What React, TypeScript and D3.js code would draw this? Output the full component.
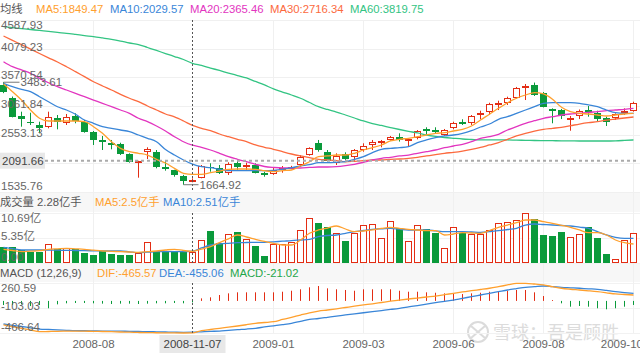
import React from 'react';
import * as d3 from 'd3';

// weekly candles, [open, high, low, close]
const ohlc: [number, number, number, number][] = [
  [3434, 3483.61, 3290, 3316], [3198, 3230, 2860, 2872], [2884, 2961, 2695, 2836], [2783, 2943, 2725, 2755],
  [2725, 2783, 2577, 2666], [2684, 2961, 2666, 2861], [2843, 2902, 2648, 2783], [2766, 2920, 2725, 2861],
  [2890, 2932, 2755, 2796], [2783, 2813, 2588, 2606], [2606, 2618, 2370, 2459], [2459, 2530, 2281, 2418],
  [2400, 2459, 2293, 2370], [2388, 2410, 2192, 2205], [2205, 2222, 2056, 2073], [2063, 2090, 1790, 2086],
  [2251, 2329, 2121, 2293], [2251, 2281, 1956, 1985], [1985, 2104, 1914, 1938], [1926, 1930, 1807, 1837],
  [1820, 1840, 1664.92, 1736], [1718, 1779, 1708, 1749], [1790, 2015, 1779, 1997], [1985, 2045, 1896, 1956],
  [1956, 2015, 1855, 1868], [1868, 2063, 1838, 2027], [2056, 2104, 1926, 1974], [1974, 2056, 1926, 2015],
  [2015, 2045, 1866, 1878], [1878, 1896, 1807, 1837], [1850, 1960, 1840, 1926], [1926, 1997, 1878, 1967],
  [1956, 2000, 1940, 1985], [2015, 2192, 1985, 2162], [2192, 2329, 2180, 2311], [2400, 2459, 2251, 2281],
  [2251, 2281, 2080, 2091], [2056, 2222, 2015, 2174], [2210, 2240, 2080, 2116], [2152, 2298, 2091, 2281],
  [2281, 2400, 2251, 2357], [2370, 2459, 2281, 2418], [2410, 2459, 2329, 2447], [2459, 2530, 2447, 2506],
  [2518, 2577, 2430, 2459], [2446, 2488, 2352, 2476], [2489, 2635, 2470, 2623], [2654, 2684, 2547, 2618],
  [2636, 2684, 2565, 2595], [2547, 2654, 2530, 2636], [2677, 2783, 2648, 2766], [2773, 2826, 2725, 2737],
  [2755, 2902, 2725, 2884], [2902, 2978, 2826, 2943], [2950, 3120, 2902, 3097], [3091, 3156, 2990, 3120],
  [3109, 3227, 3080, 3198], [3209, 3400, 3190, 3376], [3386, 3452, 3168, 3412], [3434, 3478, 3240, 3257],
  [3287, 3310, 3037, 3049], [3009, 3020, 2755, 2978], [2990, 3010, 2830, 2884], [2813, 2884, 2623, 2854],
  [2884, 3000, 2830, 2978], [2990, 3062, 2872, 2950], [2943, 2978, 2790, 2831], [2843, 2872, 2707, 2783],
  [2843, 2932, 2813, 2914], [2932, 3020, 2902, 2972], [2978, 3138, 2961, 3109],
];

const ma5 = [3452, 3316, 3168, 2991, 2844, 2796, 2796, 2796, 2796, 2783, 2695, 2577, 2428, 2311, 2251, 2223, 2192, 2116, 2050, 1956,
  1868, 1849.47, 1850, 1878, 1908, 1939, 1944, 1944, 1939, 1914, 1896, 1914, 1926, 1997, 2073, 2162, 2175, 2192, 2192, 2223,
  2281, 2322, 2370, 2441, 2471, 2489, 2517, 2547, 2577, 2588, 2618, 2648, 2707, 2813, 2915, 3021, 3120, 3199, 3257, 3298,
  3275, 3181, 3039, 2961, 2932, 2920, 2902, 2884, 2902, 2920, 2932];
const ma10 = [3465, 3404, 3358, 3316, 3227, 3138, 3049, 2991, 2915, 2813, 2755, 2695, 2666, 2636, 2606, 2547, 2489, 2428, 2290, 2192,
  2104, 2029.57, 1985, 1967, 1939, 1914, 1914, 1914, 1914, 1914, 1921, 1939, 1967, 1997, 2020, 2056, 2056, 2063, 2073, 2116,
  2162, 2233, 2294, 2311, 2322, 2340, 2411, 2459, 2499, 2530, 2547, 2577, 2624, 2689, 2742, 2826, 2872, 2932, 2991, 3049,
  3110, 3120, 3120, 3120, 3110, 3080, 3049, 2991, 2943, 2932, 2932];
const ma20 = [3848, 3759, 3701, 3642, 3553, 3475, 3404, 3346, 3287, 3227, 3168, 3110, 3049, 2991, 2932, 2844, 2783, 2707, 2618, 2517,
  2428, 2365.46, 2329, 2281, 2223, 2162, 2116, 2073, 2027, 1988, 1971, 1962, 1962, 1962, 1971, 1979, 1979, 1985, 2003, 2027,
  2063, 2104, 2134, 2152, 2175, 2192, 2223, 2251, 2281, 2322, 2352, 2382, 2428, 2489, 2517, 2560, 2636, 2695, 2755, 2801,
  2844, 2872, 2902, 2920, 2932, 2950, 2961, 2978, 2991, 3003, 3021];
const ma30 = [4304, 4226, 4150, 4072, 3993, 3917, 3843, 3759, 3671, 3582, 3493, 3417, 3346, 3269, 3199, 3138, 3062, 2991, 2920, 2867,
  2796, 2716.34, 2666, 2624, 2565, 2517, 2471, 2428, 2370, 2329, 2294, 2251, 2210, 2175, 2144, 2116, 2104, 2091, 2073, 2081,
  2091, 2104, 2104, 2116, 2121, 2134, 2152, 2175, 2198, 2223, 2240, 2263, 2294, 2329, 2370, 2411, 2471, 2530, 2577, 2618,
  2648, 2666, 2684, 2712, 2742, 2766, 2783, 2813, 2831, 2849, 2867];
const ma60 = [4469, 4451, 4435, 4419, 4402, 4386, 4368, 4352, 4332, 4311, 4292, 4269, 4245, 4215, 4180, 4153, 4100, 4047, 3993, 3940,
  3887, 3819.75, 3781, 3736, 3692, 3647, 3603, 3559, 3497, 3435, 3364, 3310, 3257, 3199, 3124, 3049, 3000, 2955, 2902, 2849,
  2796, 2751, 2716, 2680, 2645, 2613, 2583, 2547, 2521, 2503, 2489, 2476, 2467, 2459, 2459, 2459, 2459, 2455, 2453, 2450,
  2448, 2446, 2444, 2443, 2441, 2441, 2441, 2441, 2444, 2451, 2459];

// volume, 亿手
const volume = [3.36, 3.36, 2.78, 2.42, 2.42, 4.06, 2.99, 3.14, 2.99, 2.07, 1.71, 2.57, 1.86, 1.71, 1.71, 2.07, 4.55, 2.57, 2.57, 2.57,
  2.57, 2.28, 4.92, 6.91, 4.21, 6.2, 6.69, 5.07, 3.7, 1.56, 4.06, 4.06, 4.43, 7.06, 9.56, 8.49, 7.63, 6.35, 4.7, 6.35,
  8.12, 8.34, 5.28, 8.98, 7.42, 4.7, 8.12, 7.21, 6.48, 3.14, 7.63, 6.48, 6.2, 6.2, 7.06, 8.49, 8.7, 9.19, 10.69, 9.34,
  5.99, 5.77, 6.56, 5.49, 6.2, 7.63, 5.28, 1.92, 0.79, 4.92, 6.35];
const volMa5 = [2.93, 2.67, 2.42, 2.52, 2.63, 2.93, 3.04, 3.14, 3.04, 2.93, 2.74, 2.57, 2.5, 2.42, 2.35, 2.29, 2.42, 2.57, 2.78, 2.93,
  2.67, 2.5, 2.99, 3.48, 4.34, 5.17, 5.99, 5.56, 5.07, 4.6, 4.21, 3.85, 3.85, 4.92, 6.35, 7.06, 7.48, 7.91, 7.27, 6.69,
  6.84, 7.06, 7.38, 7.63, 7.42, 7.21, 7.06, 6.91, 6.91, 5.99, 6.2, 6.48, 6.41, 6.35, 6.95, 7.63, 8.12, 8.62, 9.19, 9.19,
  8.83, 8.49, 8.06, 7.63, 7.06, 6.48, 6.48, 5.99, 4.92, 4.34, 4.06];
const volMa10 = [3.36, 3.06, 2.78, 2.78, 2.78, 2.78, 2.74, 2.69, 2.67, 2.63, 2.61, 2.59, 2.57, 2.57, 2.39, 2.2, 2.31, 2.42, 2.42, 2.42,
  2.42, 2.51, 3.21, 3.85, 4.06, 4.21, 4.34, 4.38, 4.4, 4.43, 4.53, 4.66, 4.77, 4.92, 5.07, 5.62, 5.88, 5.99, 6.35, 6.69,
  6.95, 7.21, 7.31, 7.42, 7.23, 7.06, 7.06, 7.06, 6.88, 6.69, 6.69, 6.69, 6.63, 6.56, 6.73, 6.91, 7.16, 7.42, 8.12, 8.34,
  8.23, 8.12, 8.02, 7.91, 7.65, 7.42, 6.69, 5.99, 5.49, 5.28, 5.28];

// MACD (12,26,9)
const dif = [-350, -375, -398, -423, -448, -445, -442, -440, -438, -440, -443, -445, -448, -452, -455, -459, -462, -463, -465, -466,
  -466.5, -465.57, -433, -416, -398, -382, -365, -346, -326, -314, -302, -270, -238, -205, -173, -147, -132, -115, -96, -77,
  -59, -42, -23, -4, 13, 28, 42, 57, 71, 90, 111, 130, 149, 166, 184, 207, 232, 256, 256, 246,
  232, 207, 184, 170, 159, 147, 134, 118, 101, 93, 86];
const dea = [-336, -355, -372, -391, -409, -415, -420, -427, -433, -434, -436, -438, -438, -440, -443, -445, -446, -449, -452, -455,
  -457, -455.06, -449, -443, -438, -427, -417, -409, -398, -379, -362, -345, -326, -297, -267, -256, -238, -220, -204, -188,
  -172, -156, -140, -124, -107, -87, -67, -46, -26, -6, 13, 38, 61, 86, 111, 135, 159, 179, 198, 208,
  217, 208, 198, 191, 184, 176, 169, 152, 134, 122, 111];
const macdHist = [-60, -60, -50, -75, -60, -107, -50, -35, -30, -30, -35, -40, -45, -40, -40, -45, -40, -35, -35, -30,
  -35, -21.02, 37, 52, 86, 110, 125, 125, 125, 125, 125, 134, 148, 169, 198, 217, 183, 169, 159, 148,
  169, 169, 169, 169, 148, 134, 134, 125, 119, 110, 110, 100, 110, 119, 134, 144, 148, 159, 159, 125,
  71, 13, -35, -84, -74, -84, -107, -122, -107, -84, -59];

const priceTicks = [4587.93, 4079.23, 3570.54, 3061.84, 2553.13, 2044.43, 1535.76];
const volTicks = [10.69, 5.35, 0];
const volTickLabels = ['10.69亿', '5.35亿', '0.00'];
const macdTicks = [260.59, -103.03, -466.64];
const dateTickIndex = [10, 30, 40, 50, 60, 70];
const dateTickLabels = ['2008-08', '2009-01', '2009-03', '2009-06', '2009-08', '2009-10'];

const crossIndex = 21;
const crossDate = '2008-11-07';
const crossPrice = 2091.66;

const UP = '#e32d14';
const DOWN = '#0a9a3b';
const C5 = '#ffa02e';
const C10 = '#3a86d8';
const C20 = '#e235bf';
const C30 = '#fc6a3e';
const C60 = '#33c483';
const TXT = '#666';
const FONT = "'Liberation Sans', Arial, 'Noto Sans CJK SC', sans-serif";

export default function App() {
  const W = 640, H = 354;
  const main = { top: 20, bottom: 192 };
  const vol = { top: 213, bottom: 263 };
  const mac = { top: 283, bottom: 333 };

  const x = d3.scaleLinear().domain([0, ohlc.length - 1]).range([3.5, 633.5]);
  const yP = d3.scaleLinear().domain([1535.76, 4587.93]).range([main.bottom, main.top]);
  const yV = d3.scaleLinear().domain([0, 10.69]).range([vol.bottom, vol.top]);
  const yM = d3.scaleLinear().domain([-466.64, 260.59]).range([mac.bottom, mac.top]);

  const line = (ys: d3.ScaleLinear<number, number>) =>
    d3.line<number>().x((_d, i) => x(i)).y(d => ys(d)).curve(d3.curveMonotoneX);
  const priceLine = line(yP);
  const volLine = line(yV);
  const macdLine = line(yM);

  // tick label placed just above its grid line, kept inside the panel
  const labelY = (gy: number, top: number, bottom: number) => Math.min(Math.max(gy - 2, top + 5), bottom - 6);

  const cx = x(crossIndex);
  const crossY = yP(crossPrice);
  const hiY = yP(ohlc[0][1]);
  const lowIdx = 20;
  const loY = yP(ohlc[lowIdx][2]);

  const legend = (y: number, items: { t: string; c: string; x: number }[]) =>
    items.map((it, i) => (
      <text key={i} x={it.x} y={y} fill={it.c} fontSize={11.3} dominantBaseline="central">{it.t}</text>
    ));

  return (
    <svg width={W} height={H} style={{ position: 'absolute', left: 0, top: 0, fontFamily: FONT }} fontSize={11.5}>
      <rect width={W} height={H} fill="#fff" />
      {/* panel header bands */}
      <rect x={0} y={192} width={W} height={20} fill="#f7f7f7" />
      <rect x={0} y={263} width={W} height={19} fill="#f7f7f7" />

      {/* watermark */}
      <g opacity={0.9}>
        <circle cx={478} cy={332} r={10} fill="none" stroke="#d8d8d8" strokeWidth={2} />
        <path d="M471,326 Q478,332 485,338 M485,326 Q478,332 471,338" fill="none" stroke="#d8d8d8" strokeWidth={2} />
        <text x={493} y={333} fontSize={18} fill="#d9d9d9" dominantBaseline="central">雪球：吾是顾胜</text>
      </g>

      {/* grid */}
      {priceTicks.map((t, i) => (
        <line key={'pg' + i} x1={0} x2={W} y1={Math.round(yP(t)) + 0.5} y2={Math.round(yP(t)) + 0.5} stroke="#f0f0f0" />
      ))}
      {volTicks.map((t, i) => (
        <line key={'vg' + i} x1={0} x2={W} y1={Math.round(yV(t)) + 0.5} y2={Math.round(yV(t)) + 0.5} stroke="#f2f2f2" />
      ))}
      {macdTicks.map((t, i) => (
        <line key={'mg' + i} x1={0} x2={W} y1={Math.round(yM(t)) + 0.5} y2={Math.round(yM(t)) + 0.5} stroke="#f2f2f2" />
      ))}
      {dateTickIndex.map((k, i) => (
        <line key={'xg' + i} x1={x(k)} x2={x(k)} y1={main.top} y2={mac.bottom} stroke="#f0f0f0" />
      ))}

      {/* candles */}
      {ohlc.map(([o, h, l, c], i) => {
        const up = c >= o;
        const px = x(i);
        const top = Math.round(yP(Math.max(o, c)));
        const bot = Math.round(yP(Math.min(o, c)));
        const col = up ? UP : DOWN;
        return (
          <g key={'c' + i}>
            <line x1={px} x2={px} y1={yP(h)} y2={yP(l)} stroke={col} />
            {up ? (
              <rect x={px - 3} y={top + 0.5} width={6} height={Math.max(bot - top - 1, 1)} fill="#fff" stroke={col} />
            ) : (
              <rect x={px - 3.5} y={top} width={7} height={Math.max(bot - top, 1)} fill={col} />
            )}
          </g>
        );
      })}

      {/* moving averages */}
      <path d={priceLine(ma60) || ''} fill="none" stroke={C60} strokeWidth={1.3} />
      <path d={priceLine(ma30) || ''} fill="none" stroke={C30} strokeWidth={1.3} />
      <path d={priceLine(ma20) || ''} fill="none" stroke={C20} strokeWidth={1.3} />
      <path d={priceLine(ma10) || ''} fill="none" stroke={C10} strokeWidth={1.3} />
      <path d={priceLine(ma5) || ''} fill="none" stroke={C5} strokeWidth={1.3} />

      {/* volume bars */}
      {volume.map((v, i) => {
        const [o, , , c] = ohlc[i];
        const up = c >= o;
        const px = x(i);
        const top = Math.round(yV(v));
        return up ? (
          <rect key={'v' + i} x={px - 3} y={top + 0.5} width={6} height={vol.bottom - top - 1} fill="#fff" stroke={UP} />
        ) : (
          <rect key={'v' + i} x={px - 3.5} y={top} width={7} height={vol.bottom - top} fill={DOWN} />
        );
      })}
      <path d={volLine(volMa10) || ''} fill="none" stroke={C10} strokeWidth={1.3} />
      <path d={volLine(volMa5) || ''} fill="none" stroke={C5} strokeWidth={1.3} />

      {/* MACD */}
      {macdHist.map((v, i) => (
        <line key={'h' + i} x1={x(i)} x2={x(i)} y1={yM(0)} y2={yM(v)} stroke={v >= 0 ? UP : DOWN} />
      ))}
      <path d={macdLine(dea) || ''} fill="none" stroke={C10} strokeWidth={1.3} />
      <path d={macdLine(dif) || ''} fill="none" stroke={C5} strokeWidth={1.3} />

      {/* crosshair */}
      {[main, vol, mac].map((p, i) => (
        <line key={'cv' + i} x1={cx} x2={cx} y1={p.top} y2={p.bottom} stroke="#555" strokeDasharray="2,2" />
      ))}
      <line x1={45} x2={636} y1={crossY} y2={crossY} stroke="#aaa" strokeWidth={2} strokeDasharray="3,3" />

      {/* y tick labels */}
      {priceTicks.map((t, i) => (
        <text key={'pl' + i} x={1} y={labelY(yP(t), main.top, main.bottom)} fill={TXT} dominantBaseline="central">{t.toFixed(2)}</text>
      ))}
      {volTicks.map((t, i) => (
        <text key={'vl' + i} x={1} y={labelY(yV(t), vol.top, vol.bottom)} fill={TXT} dominantBaseline="central">{volTickLabels[i]}</text>
      ))}
      {macdTicks.map((t, i) => (
        <text key={'ml' + i} x={1} y={labelY(yM(t), mac.top, mac.bottom)} fill={TXT} dominantBaseline="central">{t.toFixed(2)}</text>
      ))}

      {/* high / low markers */}
      <line x1={x(0)} x2={x(0) + 16} y1={hiY} y2={hiY} stroke="#777" />
      <text x={x(0) + 17} y={hiY} fill={TXT} dominantBaseline="central">{ohlc[0][1].toFixed(2)}</text>
      <line x1={x(lowIdx)} x2={x(lowIdx) + 15} y1={loY} y2={loY} stroke="#777" />
      <text x={x(lowIdx) + 16} y={loY} fill={TXT} dominantBaseline="central">{ohlc[lowIdx][2].toFixed(2)}</text>

      {/* crosshair price label */}
      <rect x={0} y={crossY - 8} width={45} height={16} fill="#e8e8e8" />
      <text x={2} y={crossY} fill="#444" dominantBaseline="central">{crossPrice.toFixed(2)}</text>

      {/* x axis */}
      {dateTickIndex.map((k, i) => {
        const px = x(k);
        const end = px + 23 > W;
        return (
          <text key={'xl' + i} x={end ? W + 3 : px} y={343.5} fill={TXT} textAnchor={end ? 'end' : 'middle'} dominantBaseline="central">
            {dateTickLabels[i]}
          </text>
        );
      })}
      <rect x={cx - 33} y={335} width={66} height={18} fill="#e8e8e8" />
      <text x={cx} y={344} fill="#444" textAnchor="middle" dominantBaseline="central">{crossDate}</text>

      {/* legends */}
      {legend(8.5, [
        { t: '均线', c: '#555', x: 0 },
        { t: `MA5:${ma5[crossIndex].toFixed(2)}`, c: C5, x: 36 },
        { t: `MA10:${ma10[crossIndex].toFixed(2)}`, c: C10, x: 110 },
        { t: `MA20:${ma20[crossIndex].toFixed(2)}`, c: C20, x: 190 },
        { t: `MA30:${ma30[crossIndex].toFixed(2)}`, c: C30, x: 270 },
        { t: `MA60:${ma60[crossIndex].toFixed(2)}`, c: C60, x: 350 },
      ])}
      {legend(201.5, [
        { t: `成交量 ${volume[crossIndex]}亿手`, c: '#555', x: 0 },
        { t: `MA5:${volMa5[crossIndex]}亿手`, c: C5, x: 95 },
        { t: `MA10:${volMa10[crossIndex]}亿手`, c: C10, x: 163 },
      ])}
      {legend(272.5, [
        { t: 'MACD (12,26,9)', c: '#555', x: 0 },
        { t: `DIF:${dif[crossIndex].toFixed(2)}`, c: C5, x: 97 },
        { t: `DEA:${dea[crossIndex].toFixed(2)}`, c: C10, x: 159 },
        { t: `MACD:${macdHist[crossIndex].toFixed(2)}`, c: '#1fa64a', x: 230 },
      ])}
    </svg>
  );
}
